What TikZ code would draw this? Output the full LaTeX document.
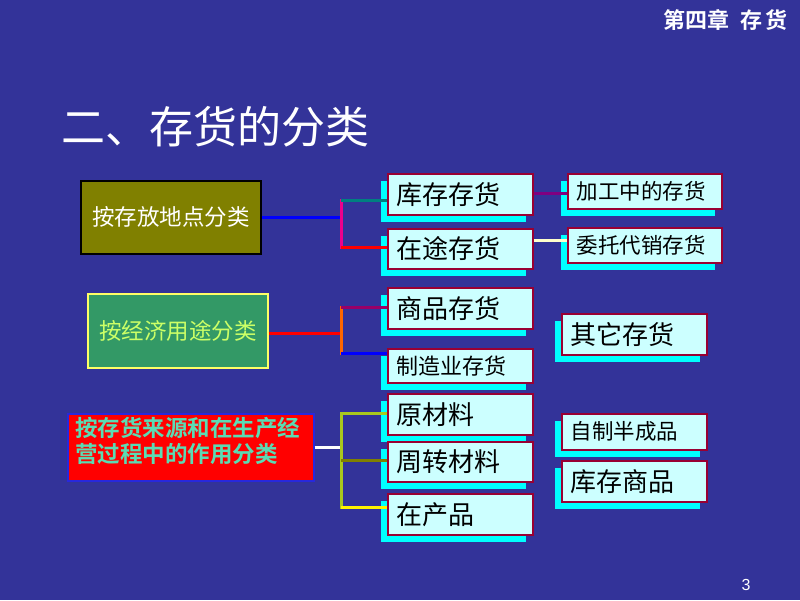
\documentclass[tikz,border=0pt]{standalone}
\usepackage{fontspec}
\setmainfont{Liberation Sans}
\newfontfamily\cjk{Noto Sans CJK SC}
\newfontfamily\cjkb{Noto Sans CJK SC Bold}
\usetikzlibrary{shadows}
\definecolor{bg}{RGB}{51,51,153}
\definecolor{olivebox}{RGB}{128,128,0}
\definecolor{greenbox}{RGB}{51,153,102}
\definecolor{greentext}{RGB}{204,255,102}
\definecolor{greenborder}{RGB}{255,255,102}
\definecolor{redtext}{RGB}{90,220,180}
\definecolor{redborder}{RGB}{40,40,220}
\definecolor{lcyan}{RGB}{204,255,255}
\definecolor{boxred}{RGB}{153,0,51}
\definecolor{shcyan}{RGB}{0,255,255}
\definecolor{ctealline}{RGB}{0,128,128}
\definecolor{cpurple}{RGB}{128,0,128}
\definecolor{cpurple2}{RGB}{153,0,102}
\definecolor{ccream}{RGB}{255,255,204}
\definecolor{corange}{RGB}{255,102,0}
\definecolor{cyg}{RGB}{170,200,30}
\definecolor{colive}{RGB}{128,128,0}
\tikzset{
  cbox/.style={draw=boxred, fill=lcyan, line width=1.5pt, anchor=north west,
    inner xsep=9pt, inner ysep=0pt, align=left, text=black,
    general shadow={shadow xshift=-7pt, shadow yshift=-7pt, fill=shcyan, draw=none}},
  conn/.style={line width=3pt},
  vconn/.style={line width=3pt, line cap=rect},
}
\newcommand\cb[7]{\node[cbox, text width=\dimexpr #4pt-18pt\relax, minimum height=#5pt,
  font=\cjk\fontsize{#6}{#6}\selectfont] (#1) at (#2,#3) {#7};}
\begin{document}
\begin{tikzpicture}[x=1pt,y=-1pt]
\fill[bg] (0,0) rectangle (800,600);
\useasboundingbox (0,0) rectangle (800,600);

% header, title, page number
\node[text=white, font=\cjkb\fontsize{22}{22}\selectfont, anchor=east, inner sep=0pt] (hdr) at (788,20) {第四章\hspace{0.5em}存\hspace{0.15em}货};
\node[text=white, font=\cjk\fontsize{44}{44}\selectfont, anchor=west, inner sep=0pt] (title) at (61,127) {二、存货的分类};
\node[text=white, font=\fontsize{16}{16}\selectfont, inner sep=0pt] (pg) at (746,585) {3};

% left boxes
\node[draw=black, fill=olivebox, line width=1.5pt, anchor=north west, minimum width=180pt, minimum height=73pt,
  text=white, font=\cjk\fontsize{22.5}{22.5}\selectfont, inner sep=0pt] (L1) at (80,180) {按存放地点分类};
\node[draw=greenborder, fill=greenbox, line width=1.5pt, anchor=north west, minimum width=180pt, minimum height=74pt,
  text=greentext, font=\cjk\fontsize{22.5}{22.5}\selectfont, inner sep=0pt] (L2) at (87,293) {按经济用途分类};
\node[draw=redborder, fill=red, line width=1.5pt, anchor=north west, minimum width=246pt, minimum height=67pt, inner sep=0pt] (L3) at (67,413) {};
\node[text=redtext, font=\cjkb\fontsize{22.5}{26}\selectfont, anchor=north west, align=left, inner sep=0pt] (L3t) at ([xshift=8pt,yshift=-4pt]L3.north west) {按存货来源和在生产经\\营过程中的作用分类};

% group 1
\cb{A1}{387}{173}{145}{41}{26}{库存存货}
\cb{A2}{387}{228}{145}{40}{26}{在途存货}
\cb{R1}{567}{173}{154}{35}{21.5}{加工中的存货}
\cb{R2}{567}{227}{154}{35}{21.5}{委托代销存货}
% group 2
\cb{B1}{387}{287}{145}{41}{26}{商品存货}
\cb{B2}{387}{348}{145}{34}{22}{制造业存货}
\cb{S1}{561}{313}{145}{41}{26}{其它存货}
% group 3
\cb{C1}{387}{393}{145}{41}{26}{原材料}
\cb{C2}{387}{441}{145}{40}{26}{周转材料}
\cb{C3}{387}{493}{145}{41}{26}{在产品}
\cb{T1}{561}{413}{145}{36}{21.5}{自制半成品}
\cb{T2}{561}{460}{145}{41}{26}{库存商品}

% connectors group 1
\coordinate (t1) at (341,200);
\coordinate (b1) at (341,247);
\draw[conn, blue] (L1.east) -- (L1.east -| t1);
\draw[vconn, magenta] (t1) -- (b1);
\draw[conn, ctealline] (t1) -- (t1 -| A1.west);
\draw[conn, red] (b1) -- (b1 -| A2.west);
\draw[conn, cpurple] ([yshift=0.5pt]A1.east) -- ([yshift=0.5pt]A1.east -| R1.west);
\draw[conn, ccream] ([yshift=8pt]A2.east) -- ([yshift=8pt]A2.east -| R2.west);

% connectors group 2
\coordinate (t2) at (341,307);
\coordinate (b2) at (341,353);
\draw[conn, red] ([yshift=-3pt]L2.east) -- ([yshift=-3pt]L2.east -| t2);
\draw[vconn, corange] (t2) -- (b2);
\draw[conn, cpurple2] (t2) -- (t2 -| B1.west);
\draw[conn, blue] (b2) -- (b2 -| B2.west);

% connectors group 3
\coordinate (t3) at (341,413);
\coordinate (m3) at (341,460);
\coordinate (b3) at (341,507);
\draw[conn, white] (L3.east) -- (L3.east -| t3);
\draw[vconn, cyg] (t3) -- (b3);
\draw[conn, cyg] (t3) -- (t3 -| C1.west);
\draw[conn, colive] (m3) -- (m3 -| C2.west);
\draw[conn, yellow] (b3) -- (b3 -| C3.west);
\end{tikzpicture}
\end{document}
